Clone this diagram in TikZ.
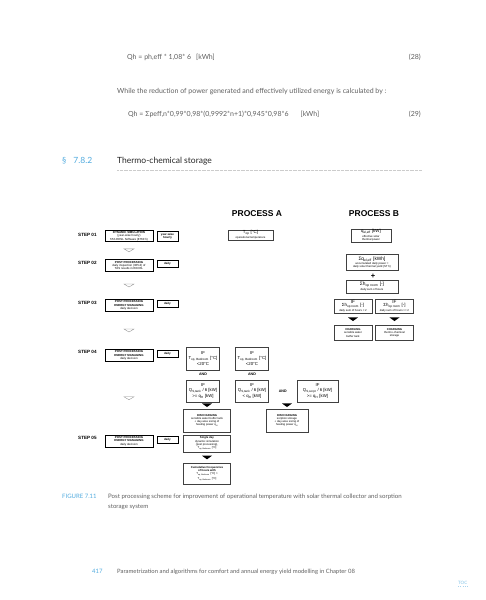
\documentclass[tikz,border=0pt]{standalone}
\usepackage{fontspec}
\setmainfont{Lato}
\newfontfamily\diafont{Liberation Sans}
\usetikzlibrary{calc}

\definecolor{bookblue}{RGB}{80,170,222}
\definecolor{txtgray}{RGB}{95,95,95}

\tikzset{
    body/.style={anchor=base west, inner sep=0pt, text=txtgray, font=\fontsize{7}{8.4}\selectfont},
    proclbl/.style={inner sep=0pt, font=\diafont\bfseries\fontsize{8.5}{9}\selectfont},
    steplbl/.style={anchor=west, inner sep=0pt, font=\diafont\bfseries\fontsize{4.6}{5}\selectfont},
    stepbox/.style={draw, line width=0.7pt, align=center, inner sep=0.6pt, minimum width=48pt, minimum height=12pt, font=\diafont\fontsize{2.9}{3.3}\selectfont},
    freqbox/.style={draw, line width=0.45pt, align=center, inner sep=0.6pt, minimum width=21pt, minimum height=7pt, font=\diafont\bfseries\fontsize{2.9}{3.3}\selectfont},
    infobox/.style={draw=black!75, line width=0.35pt, align=center, inner sep=0.7pt, font=\diafont\fontsize{2.8}{3.3}\selectfont},
    ifbox/.style={draw=black!75, line width=0.35pt, align=center, inner sep=0.6pt, font=\diafont\fontsize{4.3}{5.3}\selectfont},
    andlbl/.style={inner sep=0pt, font=\diafont\bfseries\fontsize{3.6}{4}\selectfont},
    chev/.pic={\draw[black!45, line width=0.35pt] (-5,-1.5) -- (5,-1.5) -- (0,1.5) -- cycle;},
    darrow/.pic={\fill[black] (-5,-1.8) -- (5,-1.8) -- (0,1.8) -- cycle;}
}

\begin{document}
\begin{tikzpicture}[x=1pt,y=-1pt]
    \useasboundingbox (0,0) rectangle (486,600);

    % text above the figure
    \node[body] (eqa) at (127,59.5) {Qh = ph,eff * 1,08* 6\hspace{5pt}[kWh]};
    \node[body, anchor=base east] (eqanum) at (421,59.5) {(28)};
    \node[body] (intro) at (117,93.5) {While the reduction of power generated and effectively utilized energy is calculated by :};
    \node[body] (eqb) at (128,116.5) {Qh = Σpeff,n*0,99*0,98*(0,9992*n+1)*0,945*0,98*6\hspace{12pt}[kWh]};
    \node[body, anchor=base east] (eqbnum) at (421,116.5) {(29)};

    \node[body, text=bookblue, font=\fontsize{8.5}{10}\selectfont] (secno) at (62,163) {§\hspace{7pt}7.8.2};
    \node[body, text=black!85, font=\fontsize{8.5}{10}\selectfont] (sectitle) at (117,163) {Thermo-chemical storage};
    \coordinate (rulea) at (117,170.5);
    \coordinate (ruleb) at (422,170.5);
    \draw[black!20, densely dotted, line width=0.3pt] (rulea) -- (ruleb);

    % figure: headers
    \node[proclbl] (procA) at (257,214) {PROCESS A};
    \node[proclbl] (procB) at (374,214) {PROCESS B};

    % steps
    \node[steplbl] (stepa) at (78,235) {STEP 01};
    \node[steplbl] (stepb) at (78,263) {STEP 02};
    \node[steplbl] (stepc) at (78,303) {STEP 03};
    \node[steplbl] (stepd) at (78,352) {STEP 04};
    \node[steplbl] (stepe) at (78,438) {STEP 05};

    \node[stepbox, minimum height=10pt] (sim) at (129,236) {\textbf{DYNAMIC SIMULATION}\\(year-wise hourly)\\TAS EDSL Software (8760 h)};
    \node[stepbox] (ppb) at (129,265.5) {\textbf{POST PROCESSING}\\daily inspection (365 d) of\\TAS results in EXCEL};
    \node[stepbox] (ppc) at (129,305.5) {\textbf{POST PROCESSING}\\\textbf{ENERGY MANAGING}\\daily decision};
    \node[stepbox] (ppd) at (129,355.5) {\textbf{POST PROCESSING}\\\textbf{ENERGY MANAGING}\\daily decision};
    \node[stepbox] (ppe) at (129,441) {\textbf{POST PROCESSING}\\\textbf{ENERGY MANAGING}\\daily decision};

    \node[freqbox, minimum height=10pt] (freqa) at (167.5,236) {year-wise\\hourly};
    \node[freqbox] (freqb) at (167.5,263.5) {daily};
    \node[freqbox] (freqc) at (167.5,303.5) {daily};
    \node[freqbox] (freqd) at (167.5,353.5) {daily};
    \node[freqbox] (freqe) at (167.5,439.5) {daily};

    \pic at ($(sim.south)!0.5!(ppb.north)$) {chev};
    \pic at ($(ppb.south)!0.5!(ppc.north)$) {chev};
    \pic at ($(ppc.south)!0.5!(ppd.north)$) {chev};
    \pic at ($(ppd.south)!0.5!(ppe.north)$) {chev};

    % process A
    \node[infobox, minimum width=45pt, minimum height=8pt] (topA) at (250.5,235) {{\fontsize{4.4}{4.8}\selectfont T\textsubscript{op} [°C]}\\operational temperature};

    \node[ifbox, minimum width=33pt, minimum height=23pt] (ifTa) at (203,358.5) {IF\\T\textsubscript{op, Bedroom} [°C]\\<20°C};
    \node[ifbox, minimum width=33pt, minimum height=23pt] (ifTb) at (252,358.5) {IF\\T\textsubscript{op, Bedroom} [°C]\\<20°C};
    \node[andlbl] (anda) at (203,374.5) {AND};
    \node[andlbl] (andb) at (252,374.5) {AND};
    \node[ifbox, minimum width=33pt, minimum height=22pt] (ifQa) at (203,391) {IF\\Q\textsubscript{S,tank} / 6 [kW]\\>= q\textsubscript{H} [kW]};
    \node[ifbox, minimum width=33pt, minimum height=22pt] (ifQb) at (252,391) {IF\\Q\textsubscript{S,tank} / 6 [kW]\\< q\textsubscript{H} [kW]};
    \node[ifbox, minimum width=41pt, minimum height=22pt] (ifQc) at (317.5,391) {IF\\Q\textsubscript{S,sorpt} / 6 [kW]\\>= q\textsubscript{H} [kW]};
    \node[andlbl] (andc) at ($(ifQb.east)!0.5!(ifQc.west)$) {AND};

    \node[infobox, minimum width=47pt, minimum height=23pt] (disW) at (207,420.5) {\textbf{DISCHARGING}\\sensible water buffer tank\\+ day-wise sizing of\\heating power q\textsubscript{H}};
    \node[infobox, minimum width=42pt, minimum height=23pt] (disS) at (287,420.5) {\textbf{DISCHARGING}\\sorption storage\\+ day-wise sizing of\\heating power q\textsubscript{H}};
    \pic at ([yshift=3.6pt]disW.north) {darrow};
    \pic at ([yshift=3.6pt]disS.north) {darrow};

    \node[infobox, minimum width=47pt, minimum height=17pt] (single) at (207,443.5) {\textbf{Single day}\\dynamic simulation\\(post processing),\\T\textsubscript{op, Bedroom} [°C]};
    \node[infobox, minimum width=47pt, minimum height=21pt] (cumul) at (207,473.5) {\textbf{Cumulative Frequencies}\\\textbf{of hours with}\\T\textsubscript{op, Bedroom} [°C] >\\T\textsubscript{op, Bedroom} [°C]};
    \pic at ($(single.south)!0.5!(cumul.north)$) {darrow};

    % process B
    \node[infobox, minimum width=40pt] (qel) at (371,235.5) {{\fontsize{4.4}{4.8}\selectfont q\textsubscript{el,eff} [kW]}\\effective solar\\thermal power};
    \node[infobox, minimum width=52pt, minimum height=16pt] (sumq) at (372,262.5) {{\fontsize{4.8}{5.4}\selectfont Σq\textsubscript{el,eff} [kWh]}\\accumulated daily power =\\daily solar thermal yield (ST h)};
    \node[inner sep=0pt, font=\diafont\bfseries\fontsize{7.5}{8}\selectfont] (plus) at (373,276) {+};
    \node[infobox, minimum width=52pt, minimum height=13pt] (sumh) at (372,286.5) {{\fontsize{4.8}{5.4}\selectfont Σh\textsubscript{op room} [-]}\\daily sum of hours};
    \node[infobox, minimum width=38pt, minimum height=14pt] (ifHa) at (353,306) {{\fontsize{4.6}{5}\selectfont IF}\\{\fontsize{4.4}{5}\selectfont Σh\textsubscript{op room} [-]}\\daily sum of hours < 2};
    \node[infobox, minimum width=38pt, minimum height=14pt] (ifHb) at (394.5,306) {{\fontsize{4.6}{5}\selectfont IF}\\{\fontsize{4.4}{5}\selectfont Σh\textsubscript{op room} [-]}\\daily sum of hours >= 2};
    \node[infobox, minimum width=38pt, minimum height=15pt] (chW) at (353,333) {\textbf{CHARGING}\\sensible water\\buffer tank};
    \node[infobox, minimum width=38pt, minimum height=15pt] (chS) at (394.5,333) {\textbf{CHARGING}\\thermo-chemical\\storage};
    \pic at ($(ifHa.south)!0.5!(chW.north)$) {darrow};
    \pic at ($(ifHb.south)!0.5!(chS.north)$) {darrow};

    % caption and footer
    \node[body, text=bookblue, font=\fontsize{6}{7}\selectfont] (figno) at (62,498) {FIGURE 7.11};
    \node[body, font=\fontsize{6.1}{7}\selectfont] (capa) at (108,498) {Post processing scheme for improvement of operational temperature with solar thermal collector and sorption};
    \node[body, font=\fontsize{6.1}{7}\selectfont] (capb) at (108,508) {storage system};

    \node[body, text=bookblue, font=\fontsize{6}{7}\selectfont] (pageno) at (92,573) {417};
    \node[body, font=\fontsize{5.9}{7}\selectfont] (footer) at (117,573) {Parametrization and algorithms for comfort and annual energy yield modelling in Chapter 08};
    \node[body, text=bookblue!70, font=\fontsize{4.5}{5}\selectfont] (toc) at (458,584) {TOC};
    \draw[bookblue!50, dotted, line width=0.3pt] ([yshift=-1.5pt]toc.south west) -- ([yshift=-1.5pt]toc.south east);
\end{tikzpicture}
\end{document}
